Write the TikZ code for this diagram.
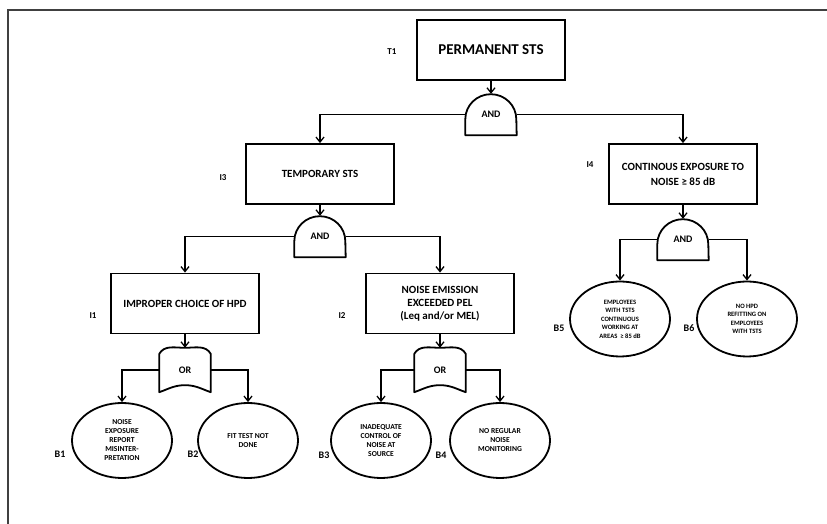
\documentclass[tikz,border=0pt]{standalone}
\usepackage{fontspec}
\setmainfont{Carlito}
\usetikzlibrary{shapes,arrows,positioning,calc,arrows.meta}
\tikzset{
    event/.style={draw, line width=1.8pt, minimum width=148pt, minimum height=60pt, align=center, font=\bfseries\fontsize{11}{14}\selectfont},
    basic/.style={draw, ellipse, line width=1.8pt, minimum width=100pt, minimum height=75pt, inner sep=0pt, align=center, font=\bfseries\fontsize{7.6}{9}\selectfont},
    gate/.style={minimum width=51pt, minimum height=41pt, inner sep=0pt, font=\bfseries\fontsize{10}{12}\selectfont},
    gateline/.style={line width=1.8pt, line join=round},
    link/.style={line width=1.3pt, -{Straight Barb[length=5pt,width=8pt,line width=1.3pt]}},
    tag/.style={font=\bfseries\fontsize{9}{11}\selectfont}
}
\begin{document}
\begin{tikzpicture}[x=1pt,y=1pt]
    \useasboundingbox (0,0) rectangle (827,524);
    % Frame (top and left only)
    \draw[line width=1.5pt, black!75] (827,514) -- (8,514) -- (8,0);

    % Top event
    \node[event, font=\bfseries\fontsize{15}{18}\selectfont] (t1) at (491,474) {PERMANENT STS};
    \node[gate] (g1) at (491,409.5) {AND};

    % Intermediate events
    \node[event] (i3) at (320,350) {TEMPORARY STS};
    \node[event, font=\bfseries\fontsize{11}{15}\selectfont] (i4) at (683,350) {CONTINOUS EXPOSURE TO\\NOISE ≥ 85 dB};
    \node[gate] (g2) at (320,287.5) {AND};
    \node[gate] (g3) at (683,284.5) {AND};
    \node[event] (i1) at (185,220.5) {IMPROPER CHOICE OF HPD};
    \node[event, font=\bfseries\fontsize{11}{13}\selectfont] (i2) at (440,220.5) {NOISE EMISSION\\EXCEEDED PEL\\(Leq and/or MEL)};
    \node[gate, minimum height=44pt] (or1) at (185,154) {OR};
    \node[gate, minimum height=44pt] (or2) at (440,154) {OR};

    % Basic events
    \node[basic] (b1) at (122,83.5) {NOISE\\EXPOSURE\\REPORT\\MISINTER-\\PRETATION};
    \node[basic] (b2) at (248,83.5) {FIT TEST NOT\\DONE};
    \node[basic] (b3) at (381,83.5) {INADEQUATE\\CONTROL OF\\NOISE AT\\SOURCE};
    \node[basic] (b4) at (500,83.5) {NO REGULAR\\NOISE\\MONITORING};
    \node[basic, font=\bfseries\fontsize{6.6}{8.5}\selectfont] (b5) at (620,205) {EMPLOYEES\\WITH TSTS\\CONTINUOUS\\WORKING AT\\AREAS\ \ ≥ 85 dB};
    \node[basic, font=\bfseries\fontsize{6.6}{8.5}\selectfont] (b6) at (747,205) {NO HPD\\REFITTING ON\\EMPLOYEES\\WITH TSTS};

    % Gate outlines
    \foreach \g in {g1,g2,g3}
        \draw[gateline] (\g.south east) -- (\g.south west) -- ++(0,16) arc[start angle=180, end angle=0, x radius=25.5pt, y radius=25pt] -- cycle;
    \foreach \g in {or1,or2}
        \draw[gateline] (\g.south west) -- ([yshift=-6pt]\g.north west) to[out=60,in=180] (\g.north) to[out=0,in=120] ([yshift=-6pt]\g.north east) -- (\g.south east) to[out=160,in=0] ([yshift=7pt]\g.south) to[out=180,in=20] (\g.south west) -- cycle;

    % Connectors
    \draw[link] (t1.south) -- (g1.north);
    \draw[link] (g1.west) -| (i3.north);
    \draw[link] (g1.east) -| (i4.north);
    \draw[link] (i3.south) -- (g2.north);
    \draw[link] (i4.south) -- (g3.north);
    \draw[link] (g2.west) -| (i1.north);
    \draw[link] (g2.east) -| (i2.north);
    \draw[link] (g3.west) -| (b5.north);
    \draw[link] (g3.east) -| (b6.north);
    \draw[link] (i1.south) -- (or1.north);
    \draw[link] (i2.south) -- (or2.north);
    \draw[link] (or1.west) -| (b1.north);
    \draw[link] (or1.east) -| (b2.north);
    \draw[link] (or2.west) -| (b3.north);
    \draw[link] (or2.east) -| (b4.north);

    % Event labels
    \foreach \n/\x/\y in {T1/392/472, I3/223/346, I4/590/359, I1/93/208, I2/342/208}
        \node[tag] (lab\n) at (\x,\y) {\n};
    \foreach \n/\x/\y in {B1/60/70, B2/193/70, B3/324/69, B4/441/69, B5/559/196, B6/689/196}
        \node[tag, font=\bfseries\fontsize{10}{12}\selectfont] (lab\n) at (\x,\y) {\n};
\end{tikzpicture}
\end{document}
